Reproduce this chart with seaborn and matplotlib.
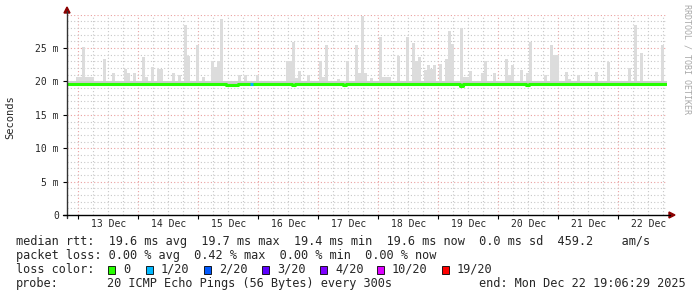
import numpy as np
import pandas as pd
import matplotlib
matplotlib.use("Agg")
import matplotlib.pyplot as plt
import seaborn as sns
from matplotlib.patches import Polygon, Rectangle
from matplotlib.lines import Line2D

# ---------------- data ----------------
day_labels = ["13 Dec", "14 Dec", "15 Dec", "16 Dec", "17 Dec",
              "18 Dec", "19 Dec", "20 Dec", "21 Dec", "22 Dec"]
ytick_vals = [0, 5, 10, 15, 20, 25]
ytick_labels = ["0", "5 m", "10 m", "15 m", "20 m", "25 m"]

# max rtt per time bin (ms), 200 bins of 72 min
smoke_max = [
    20.1, 20.1, 20.1, 20.6, 20.6, 25.1, 20.6, 20.7, 20.7, 20.1, 20.1, 20.1, 23.3, 20.1, 20.1, 21.2, 20.1, 20.1, 20.1, 21.9,
    21.2, 20.1, 21.3, 20.1, 20.1, 23.7, 20.6, 20.1, 22.1, 20.1, 21.9, 21.9, 20.1, 20.1, 20.1, 21.2, 20.1, 21.0, 20.1, 28.4,
    23.8, 20.1, 20.1, 25.4, 20.1, 20.7, 20.1, 20.1, 23.1, 22.2, 23.0, 29.3, 20.1, 20.1, 20.1, 20.1, 20.1, 20.9, 20.1, 20.9,
    20.1, 20.1, 20.1, 21.0, 20.1, 20.1, 20.1, 20.1, 20.1, 20.1, 20.1, 20.1, 20.1, 23.1, 23.1, 25.9, 20.5, 21.5, 20.1, 20.1,
    20.9, 20.1, 20.1, 20.1, 23.0, 20.7, 25.4, 20.1, 20.1, 20.1, 20.3, 20.1, 20.1, 23.0, 20.1, 20.1, 25.5, 21.3, 29.85, 21.3,
    20.1, 20.5, 20.1, 20.1, 26.6, 20.6, 20.6, 20.6, 20.1, 20.1, 23.8, 20.1, 20.1, 26.6, 20.1, 25.7, 23.0, 23.6, 20.1, 21.7,
    22.4, 21.9, 22.5, 20.1, 22.6, 20.1, 23.4, 27.5, 25.6, 20.1, 20.1, 28.0, 20.6, 20.6, 21.5, 20.1, 20.1, 20.1, 21.2, 23.1,
    20.1, 20.1, 21.2, 20.1, 20.1, 20.1, 23.3, 20.9, 22.5, 20.1, 20.1, 21.7, 20.1, 21.2, 25.9, 20.1, 20.1, 20.1, 20.1, 21.0,
    20.1, 25.4, 23.9, 23.9, 20.1, 20.1, 21.4, 20.4, 20.1, 20.1, 21.0, 20.1, 20.1, 20.1, 20.1, 20.1, 21.4, 20.1, 20.1, 20.1,
    22.9, 20.1, 20.1, 20.1, 20.1, 20.1, 20.1, 22.0, 20.1, 28.4, 20.1, 24.3, 20.1, 20.1, 20.1, 20.1, 20.1, 20.1, 25.5, 20.1,
]

# median rtt per bin (ms)
median_rtt = [
    19.6, 19.6, 19.6, 19.6, 19.6, 19.6, 19.6, 19.6, 19.6, 19.6, 19.6, 19.6, 19.6, 19.6, 19.6, 19.6, 19.6, 19.6, 19.6, 19.6,
    19.6, 19.6, 19.6, 19.6, 19.6, 19.6, 19.6, 19.6, 19.6, 19.6, 19.6, 19.6, 19.6, 19.6, 19.6, 19.6, 19.6, 19.6, 19.6, 19.6,
    19.6, 19.6, 19.6, 19.6, 19.6, 19.6, 19.6, 19.6, 19.6, 19.6, 19.6, 19.6, 19.6, 19.5, 19.5, 19.5, 19.5, 19.6, 19.6, 19.6,
    19.6, 19.6, 19.6, 19.6, 19.6, 19.6, 19.6, 19.6, 19.6, 19.6, 19.6, 19.6, 19.6, 19.6, 19.6, 19.4, 19.6, 19.6, 19.6, 19.6,
    19.6, 19.6, 19.6, 19.6, 19.6, 19.6, 19.6, 19.6, 19.6, 19.6, 19.6, 19.6, 19.4, 19.6, 19.6, 19.6, 19.6, 19.6, 19.6, 19.6,
    19.6, 19.6, 19.6, 19.6, 19.6, 19.6, 19.6, 19.6, 19.6, 19.6, 19.6, 19.6, 19.6, 19.6, 19.6, 19.6, 19.6, 19.6, 19.6, 19.6,
    19.6, 19.6, 19.6, 19.6, 19.6, 19.6, 19.6, 19.6, 19.6, 19.6, 19.6, 19.35, 19.6, 19.6, 19.6, 19.6, 19.6, 19.6, 19.6, 19.6,
    19.6, 19.6, 19.6, 19.6, 19.6, 19.6, 19.6, 19.6, 19.6, 19.6, 19.6, 19.6, 19.6, 19.45, 19.6, 19.6, 19.6, 19.6, 19.6, 19.6,
    19.6, 19.6, 19.6, 19.6, 19.6, 19.6, 19.6, 19.6, 19.6, 19.6, 19.6, 19.6, 19.6, 19.6, 19.6, 19.6, 19.6, 19.6, 19.6, 19.6,
    19.6, 19.6, 19.6, 19.6, 19.6, 19.6, 19.6, 19.6, 19.6, 19.6, 19.6, 19.6, 19.6, 19.6, 19.6, 19.6, 19.6, 19.6, 19.6, 19.6,
]
smoke_min = 19.4
smoke_band_top = 20.1
loss_bins = [61]            # bins with 1/20 loss

loss_names = ["0", "1/20", "2/20", "3/20", "4/20", "10/20", "19/20"]
loss_colors = ["#26ff00", "#00b8ff", "#0059ff", "#5e00ff", "#7e00ff", "#dd00ff", "#ff0000"]

legend_line1 = "median rtt:  19.6 ms avg  19.7 ms max  19.4 ms min  19.6 ms now  0.0 ms sd  459.2    am/s"
legend_line2 = "packet loss: 0.00 % avg  0.42 % max  0.00 % min  0.00 % now"
probe_text = "20 ICMP Echo Pings (56 Bytes) every 300s"
end_text = "end: Mon Dec 22 19:06:29 2025"

# ---------------- figure ----------------
W, H = 697, 297
sns.set_theme(style="white")
plt.rcParams["font.family"] = ["DejaVu Sans Mono"]

def fx(x):
    return x / W

def fy(y):
    return 1 - y / H

fig = plt.figure(figsize=(W / 100, H / 100), dpi=100)
fig.patch.set_facecolor("white")
top_px, bot_px, left_px, right_px = 14.7, 215, 67, 667
ax = fig.add_axes([fx(left_px), fy(bot_px), (right_px - left_px) / W, (bot_px - top_px) / H])
ax.set_facecolor("white")

start, step = -0.1875, 0.05
n = len(smoke_max)
t = start + step * np.arange(n)
xmin, xmax = start, start + step * n
ax.set_xlim(xmin, xmax)
ax.set_ylim(0, 30)

# grid
dot = (0, (1, 2))
for k in range(0, 40):
    v = k * 0.25
    if k % 4 == 0:
        ax.axvline(v, color="#eaa0a0", lw=0.8, ls=dot, zorder=0)
    else:
        ax.axvline(v, color="#c8c8c8", lw=0.8, ls=dot, zorder=0)
for v in range(1, 31):
    if v % 5 == 0:
        ax.axhline(v, color="#eaa0a0", lw=0.8, ls=dot, zorder=0)
    else:
        ax.axhline(v, color="#c8c8c8", lw=0.8, ls=dot, zorder=0)

# smoke
smax = np.array(smoke_max)
ax.bar(t, smax - smoke_min, bottom=smoke_min, width=step, align="edge",
       color="#dcdcdc", linewidth=0, zorder=2)
ax.bar(t, np.minimum(smax, smoke_band_top) - smoke_min, bottom=smoke_min, width=step,
       align="edge", color="#cdcdcd", linewidth=0, zorder=2)

# median line
med = list(median_rtt) + [median_rtt[-1]]
df = pd.DataFrame({"t": list(t) + [xmax - 0.01], "median": med})
sns.lineplot(data=df, x="t", y="median", drawstyle="steps-post", color=loss_colors[0],
             lw=2.2, estimator=None, ax=ax, zorder=4)
for b in loss_bins:
    ax.hlines(median_rtt[b], t[b], t[b] + step, colors=loss_colors[1], lw=2.2, zorder=5)

# axes styling
for s in ["top", "right", "left", "bottom"]:
    ax.spines[s].set_visible(False)
ax.set_xlabel("")
ax.set_ylabel("")
ax.set_yticks(ytick_vals)
ax.set_yticklabels(ytick_labels, fontsize=7)
ax.tick_params(axis="y", length=3, width=0.8, color="black", pad=2.8, left=True)
ax.set_xticks(np.arange(10) + 0.5)
ax.set_xticklabels(day_labels, fontsize=7)
ax.set_xticks(np.arange(10), minor=True)
ax.tick_params(axis="x", which="major", length=0, pad=3.2)
ax.tick_params(axis="x", which="minor", length=3, width=0.8, color="black", bottom=True)

# axis lines with arrows
fig.add_artist(Line2D([fx(67), fx(67)], [fy(218), fy(11)], color="#333333", lw=1.0))
fig.add_artist(Line2D([fx(63), fx(670)], [fy(215), fy(215)], color="black", lw=1.0))
fig.add_artist(Polygon([[fx(64), fy(13)], [fx(70), fy(13)], [fx(67), fy(7)]],
                       closed=True, color="#8b0000"))
fig.add_artist(Polygon([[fx(669), fy(212)], [fx(669), fy(218)], [fx(675), fy(215)]],
                       closed=True, color="#8b0000"))

# labels
fig.text(fx(10), fy(117), "Seconds", rotation=90, ha="center", va="center", fontsize=7.5)
fig.text(fx(687), fy(4), "RRDTOOL / TOBI OETIKER", rotation=270, ha="center", va="top",
         fontsize=6, color="#a8a8a8")

fs = 8.55
fig.text(fx(16), fy(245), legend_line1, fontsize=fs, va="baseline", ha="left")
fig.text(fx(16), fy(259), legend_line2, fontsize=fs, va="baseline", ha="left")
fig.text(fx(16), fy(273), "loss color:", fontsize=fs, va="baseline", ha="left")
box_x = [108, 145.7, 204, 262, 320, 376.7, 441.7]
for bx, name, col in zip(box_x, loss_names, loss_colors):
    fig.add_artist(Rectangle((fx(bx), fy(273.5)), 7.3 / W, 7.3 / H, facecolor=col,
                             edgecolor="black", lw=0.6))
    fig.text(fx(bx + 15), fy(273), name, fontsize=fs, va="baseline", ha="left")
fig.text(fx(16), fy(287), "probe:", fontsize=fs, va="baseline", ha="left")
fig.text(fx(107), fy(287), probe_text, fontsize=fs, va="baseline", ha="left")
fig.text(fx(479), fy(287), end_text, fontsize=fs, va="baseline", ha="left")

fig.savefig("out.png", dpi=100, facecolor="white")
